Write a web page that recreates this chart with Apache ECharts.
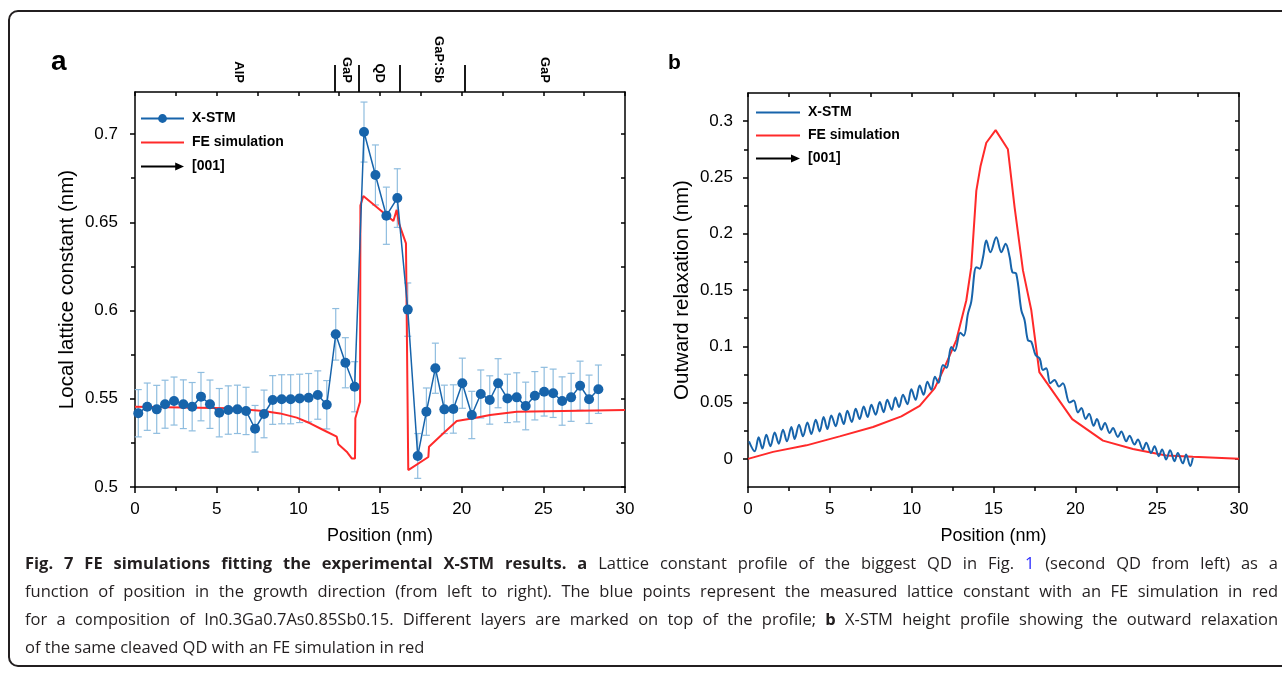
<!DOCTYPE html>
<html><head><meta charset="utf-8">
<script src="https://cdn.jsdelivr.net/npm/echarts@6/dist/echarts.min.js"></script>
<style>
html,body{margin:0;padding:0;background:#fff;}
#wrap{position:relative;width:1282px;height:676px;overflow:hidden;background:#fff;}
#frame{position:absolute;left:8px;top:10px;width:1320px;height:657px;border:2px solid #231f20;border-radius:10px;box-sizing:border-box;}
#chart{position:absolute;left:0;top:0;width:1282px;height:676px;}
#caption{position:absolute;left:25px;top:549px;width:1253px;font-family:'Open Sans','Noto Sans',sans-serif;font-size:16.5px;color:#231f20;}
#caption .ln{height:28px;line-height:28px;white-space:nowrap;}
#caption b{font-weight:700;}
</style></head>
<body>
<div id="wrap">
<div id="frame"></div>
<div id="chart"></div>
<div id="caption">
<div class="ln j"><span><b>Fig. 7 FE simulations fitting the experimental X-STM results. a</b> Lattice constant profile of the biggest QD in Fig. <span style="color:#2a2aff">1</span> (second QD from left) as a</span></div>
<div class="ln j"><span>function of position in the growth direction (from left to right). The blue points represent the measured lattice constant with an FE simulation in red</span></div>
<div class="ln j"><span>for a composition of In0.3Ga0.7As0.85Sb0.15. Different layers are marked on top of the profile; <b>b</b> X-STM height profile showing the outward relaxation</span></div>
<div class="ln"><span>of the same cleaved QD with an FE simulation in red</span></div>
</div>
</div>
<script>
// ---------- Panel a data ----------
const posA = [0.2, 0.75, 1.33, 1.84, 2.39, 2.96, 3.5, 4.04, 4.59, 5.16, 5.71, 6.27, 6.8, 7.35, 7.9, 8.43, 8.98, 9.53, 10.08, 10.63, 11.19, 11.74, 12.29, 12.88, 13.45, 14.02, 14.72, 15.39, 16.06, 16.7, 17.31, 17.84, 18.39, 18.94, 19.49, 20.04, 20.62, 21.17, 21.72, 22.23, 22.8, 23.37, 23.92, 24.48, 25.05, 25.6, 26.15, 26.7, 27.25, 27.8, 28.37];
const valA = [0.5418, 0.5455, 0.544, 0.5469, 0.5487, 0.5469, 0.5455, 0.5512, 0.5469, 0.5421, 0.5436, 0.544, 0.5431, 0.533, 0.5414, 0.5493, 0.5497, 0.5497, 0.5502, 0.5506, 0.5521, 0.5466, 0.5865, 0.5704, 0.5568, 0.7011, 0.6768, 0.6537, 0.6637, 0.6005, 0.5176, 0.5427, 0.5673, 0.544, 0.5442, 0.5588, 0.5408, 0.5527, 0.5493, 0.5588, 0.5502, 0.5508, 0.5459, 0.5517, 0.554, 0.5531, 0.5487, 0.5508, 0.5574, 0.5497, 0.5554];
const errA = [0.0134, 0.0134, 0.0136, 0.0136, 0.0136, 0.0138, 0.0137, 0.0137, 0.0137, 0.0137, 0.0137, 0.0137, 0.0134, 0.0132, 0.0135, 0.0138, 0.0139, 0.0139, 0.0137, 0.0137, 0.0137, 0.0137, 0.0146, 0.0142, 0.0142, 0.017, 0.017, 0.0162, 0.0166, 0.0151, 0.0127, 0.0134, 0.0142, 0.0137, 0.0137, 0.0142, 0.0134, 0.0136, 0.0137, 0.0139, 0.0137, 0.0139, 0.0135, 0.0137, 0.0138, 0.0137, 0.0137, 0.0136, 0.0139, 0.0137, 0.0137];
const feAx = [0, 5.82, 7.86, 8.88, 9.9, 10.72, 11.53, 12.35, 12.45, 12.96, 13.27, 13.47, 13.49, 13.78, 13.8, 13.98, 15.82, 16.02, 16.16, 16.59, 16.73, 17.96, 18.0, 18.88, 19.7, 20.72, 21.74, 23.37, 30];
const feAy = [0.5455, 0.5446, 0.5431, 0.5417, 0.5393, 0.5361, 0.5323, 0.5285, 0.5242, 0.52, 0.5162, 0.5162, 0.5389, 0.5483, 0.6595, 0.6649, 0.6507, 0.657, 0.6494, 0.638, 0.5096, 0.517, 0.5228, 0.5304, 0.5374, 0.5389, 0.5408, 0.5427, 0.5436];
const layerNames = ['AlP', 'GaP', 'QD', 'GaP:Sb', 'GaP'];
const layerPos = [6.33, 12.96, 15.0, 18.57, 25.1];
const layerBounds = [12.25, 13.72, 16.19, 20.17];

// ---------- Panel b data ----------
const posB = [0.06, 0.41, 0.65, 0.88, 1.12, 1.37, 1.63, 1.88, 2.14, 2.38, 2.65, 2.85, 3.12, 3.36, 3.63, 3.87, 4.14, 4.38, 4.62, 4.85, 5.09, 5.36, 5.6, 5.85, 6.07, 6.34, 6.58, 6.82, 7.07, 7.31, 7.54, 7.8, 8.05, 8.29, 8.51, 8.78, 9.0, 9.23, 9.47, 9.74, 9.98, 10.24, 10.49, 10.73, 10.96, 11.2, 11.42, 11.64, 11.91, 12.14, 12.42, 12.63, 12.97, 13.18, 13.44, 13.64, 13.95, 14.15, 14.36, 14.56, 14.81, 15.17, 15.48, 15.74, 15.99, 16.15, 16.39, 16.7, 16.9, 17.1, 17.31, 17.57, 17.82, 18.02, 18.22, 18.47, 18.73, 19.0, 19.24, 19.65, 19.9, 20.16, 20.37, 20.63, 20.84, 21.12, 21.32, 21.59, 21.81, 22.1, 22.3, 22.6, 22.81, 23.11, 23.31, 23.62, 23.82, 24.13, 24.33, 24.63, 24.84, 25.1, 25.3, 25.55, 25.79, 26.06, 26.26, 26.57, 26.77, 27.02, 27.18];
const valB = [0.0156, 0.0067, 0.0191, 0.0091, 0.0215, 0.0112, 0.0235, 0.0135, 0.0259, 0.0156, 0.0283, 0.0177, 0.0303, 0.02, 0.0324, 0.0221, 0.0347, 0.0244, 0.0371, 0.0265, 0.0386, 0.0289, 0.0406, 0.0309, 0.0427, 0.0327, 0.0445, 0.0353, 0.0465, 0.0371, 0.048, 0.0392, 0.0504, 0.0415, 0.0524, 0.0436, 0.0545, 0.046, 0.0569, 0.0486, 0.0619, 0.0524, 0.0651, 0.0569, 0.0686, 0.0613, 0.073, 0.0675, 0.0834, 0.081, 0.0993, 0.0959, 0.1121, 0.1094, 0.129, 0.1394, 0.1703, 0.1689, 0.1791, 0.1939, 0.1836, 0.1968, 0.1836, 0.191, 0.1791, 0.1659, 0.1645, 0.132, 0.1232, 0.1055, 0.1041, 0.0922, 0.0892, 0.079, 0.0804, 0.0672, 0.0701, 0.0643, 0.0672, 0.05, 0.0518, 0.0412, 0.0451, 0.0354, 0.0401, 0.0294, 0.0354, 0.0259, 0.0318, 0.023, 0.0274, 0.0195, 0.0244, 0.0156, 0.0206, 0.0127, 0.0171, 0.0083, 0.0142, 0.0053, 0.0112, 0.0024, 0.0083, -0.0006, 0.0077, -0.0021, 0.0053, -0.004, 0.0039, -0.0064, 0.001];
const feBx = [0, 1.53, 3.57, 5.6, 7.64, 9.37, 10.49, 11.41, 12.0, 12.73, 13.34, 13.64, 13.95, 14.21, 14.56, 15.13, 15.88, 16.29, 16.8, 17.31, 17.8, 19.81, 21.69, 23.52, 25.55, 27.18, 30];
const feBy = [0, 0.0062, 0.012, 0.02, 0.0283, 0.0377, 0.0471, 0.0628, 0.081, 0.1055, 0.1409, 0.1703, 0.2381, 0.2602, 0.2808, 0.292, 0.275, 0.2234, 0.1674, 0.132, 0.077, 0.0353, 0.0162, 0.0088, 0.0029, 0.0018, 0];

// ---------- Tick values ----------
const xMajor = [0, 5, 10, 15, 20, 25, 30];
const xMinor = [2.5, 7.5, 12.5, 17.5, 22.5, 27.5];
const xAll = [0, 2.5, 5, 7.5, 10, 12.5, 15, 17.5, 20, 22.5, 25, 27.5, 30];
const yMajorA = [0.5, 0.55, 0.6, 0.65, 0.7];
const yMinorA = [0.525, 0.575, 0.625, 0.675];
const yAllA = [0.5, 0.525, 0.55, 0.575, 0.6, 0.625, 0.65, 0.675, 0.7];
const yMajorB = [0, 0.05, 0.1, 0.15, 0.2, 0.25, 0.3];
const yMinorB = [0.025, 0.075, 0.125, 0.175, 0.225, 0.275];
const yAllB = [0, 0.025, 0.05, 0.075, 0.1, 0.125, 0.15, 0.175, 0.2, 0.225, 0.25, 0.275, 0.3];

const FONT = '"Liberation Sans", Arial, Helvetica, sans-serif';
const BLUE = '#1764ab', RED = '#ff2a2a', ERRC = '#8fbddf', BLK = '#000';
const AXL = {color: BLK, width: 1.5};

function xAxesFor(grid) {
  const base = {gridIndex: grid, type: 'value', min: 0, max: 30, splitLine: {show: false}};
  return [
    Object.assign({}, base, {position: 'bottom',
      axisLine: {onZero: false, lineStyle: AXL},
      axisTick: {customValues: xMajor, length: 6, lineStyle: AXL},
      axisLabel: {customValues: xMajor, margin: 14, color: BLK, fontSize: 17, fontFamily: FONT},
      name: 'Position (nm)', nameLocation: 'middle', nameGap: 40,
      nameTextStyle: {color: BLK, fontSize: 18, fontFamily: FONT}}),
    Object.assign({}, base, {position: 'bottom',
      axisLine: {show: false, onZero: false},
      axisTick: {customValues: xMinor, length: 4, lineStyle: AXL},
      axisLabel: {show: false}}),
    Object.assign({}, base, {position: 'top',
      axisLine: {onZero: false, lineStyle: AXL},
      axisTick: {inside: true, customValues: xAll, length: 4, lineStyle: AXL},
      axisLabel: {show: false}})
  ];
}
function yAxesFor(grid, min, max, major, minor, all, name, gap, margin) {
  const base = {gridIndex: grid, type: 'value', min: min, max: max, splitLine: {show: false}};
  return [
    Object.assign({}, base, {position: 'left',
      axisLine: {onZero: false, lineStyle: AXL},
      axisTick: {customValues: major, length: 5, lineStyle: AXL},
      axisLabel: {customValues: major, margin: margin, color: BLK, fontSize: 17, fontFamily: FONT},
      name: name, nameLocation: 'middle', nameGap: gap,
      nameTextStyle: {color: BLK, fontSize: 20.5, fontFamily: FONT}}),
    Object.assign({}, base, {position: 'left',
      axisLine: {show: false, onZero: false},
      axisTick: {customValues: minor, length: 4, lineStyle: AXL},
      axisLabel: {show: false}}),
    Object.assign({}, base, {position: 'right',
      axisLine: {onZero: false, lineStyle: AXL},
      axisTick: {inside: true, customValues: all, length: 4, lineStyle: AXL},
      axisLabel: {show: false}})
  ];
}

const xAxes = xAxesFor(0);
xAxes.push({gridIndex: 0, type: 'value', min: 0, max: 30, position: 'top', splitLine: {show: false},
  axisLine: {show: false, onZero: false},
  axisTick: {customValues: layerBounds, length: 27, lineStyle: {color: BLK, width: 1.8}},
  axisLabel: {customValues: layerPos, rotate: 90, margin: 9, color: BLK, fontSize: 13, fontWeight: 'bold', fontFamily: FONT,
    formatter: function (v) { const i = layerPos.indexOf(v); return i >= 0 ? layerNames[i] : ''; }}});
xAxes.push(...xAxesFor(1));

const yAxes = [].concat(
  yAxesFor(0, 0.5, 0.7238, yMajorA, yMinorA, yAllA, 'Local lattice constant (nm)', 57, 17),
  yAxesFor(1, -0.025, 0.325, yMajorB, yMinorB, yAllB, 'Outward relaxation (nm)', 55, 15)
);

function renderErr(params, api) {
  const x = api.value(0), y = api.value(1), e = api.value(2);
  const p1 = api.coord([x, y + e]), p2 = api.coord([x, y - e]);
  const w = 3.5;
  const st = {stroke: ERRC, lineWidth: 1.2, fill: null};
  return {type: 'group', children: [
    {type: 'line', shape: {x1: p1[0], y1: p1[1], x2: p2[0], y2: p2[1]}, style: st},
    {type: 'line', shape: {x1: p1[0] - w, y1: p1[1], x2: p1[0] + w, y2: p1[1]}, style: st},
    {type: 'line', shape: {x1: p2[0] - w, y1: p2[1], x2: p2[0] + w, y2: p2[1]}, style: st}
  ]};
}

const ARROW = 'path://M0,5.1 L35,5.1 L35,2 L44,6 L35,10 L35,6.9 L0,6.9 Z';
const LINEICON = 'path://M0,0 L44,0 L44,2 L0,2 Z';
const legendText = {fontFamily: FONT, fontWeight: 'bold', fontSize: 14, color: BLK, padding: [0, 0, 0, 3]};

const option = {
  animation: false,
  backgroundColor: 'transparent',
  grid: [
    {left: 135, top: 92, width: 490, height: 395, outerBoundsMode: 'none', containLabel: false},
    {left: 748, top: 93, width: 491, height: 394, outerBoundsMode: 'none', containLabel: false}
  ],
  xAxis: xAxes,
  yAxis: yAxes,
  graphic: [
    {type: 'text', left: 51, top: 48, style: {text: 'a', font: 'bold 28px ' + FONT, fill: BLK}},
    {type: 'text', left: 668, top: 53, style: {text: 'b', font: 'bold 21px ' + FONT, fill: BLK}}
  ],
  legend: [
    {left: 140, top: 111.5, padding: 0, orient: 'vertical', itemWidth: 43, itemHeight: 11, itemGap: 10,
      selectedMode: false, textStyle: legendText,
      data: ['X-STM', {name: 'FE simulation', icon: LINEICON}, {name: '[001]', icon: ARROW}]},
    {left: 756, top: 105.5, padding: 0, orient: 'vertical', itemWidth: 44, itemHeight: 11, itemGap: 9,
      selectedMode: false, textStyle: legendText,
      formatter: function (n) { return n.replace('b:', ''); },
      data: [{name: 'b:X-STM', icon: LINEICON}, {name: 'b:FE simulation', icon: LINEICON}, {name: 'b:[001]', icon: ARROW}]}
  ],
  series: [
    {type: 'custom', name: 'err', xAxisIndex: 0, yAxisIndex: 0, silent: true, z: 1,
      encode: {x: 0, y: 1}, renderItem: renderErr,
      data: posA.map(function (x, i) { return [x, valA[i], errA[i]]; })},
    {type: 'line', name: 'FE simulation', xAxisIndex: 0, yAxisIndex: 0, z: 2, color: RED,
      symbol: 'none', lineStyle: {color: RED, width: 2},
      data: feAx.map(function (x, i) { return [x, feAy[i]]; })},
    {type: 'line', name: 'X-STM', xAxisIndex: 0, yAxisIndex: 0, z: 3, color: BLUE,
      symbol: 'circle', symbolSize: 10, itemStyle: {color: BLUE}, lineStyle: {color: BLUE, width: 1.5},
      data: posA.map(function (x, i) { return [x, valA[i]]; })},
    {type: 'line', name: '[001]', xAxisIndex: 0, yAxisIndex: 0, color: BLK, symbol: 'none', data: []},
    {type: 'line', name: 'b:FE simulation', xAxisIndex: 4, yAxisIndex: 3, z: 2, color: RED,
      symbol: 'none', lineStyle: {color: RED, width: 2},
      data: feBx.map(function (x, i) { return [x, feBy[i]]; })},
    {type: 'line', name: 'b:X-STM', xAxisIndex: 4, yAxisIndex: 3, z: 3, color: BLUE,
      symbol: 'none', smooth: 0.35, lineStyle: {color: BLUE, width: 2},
      data: posB.map(function (x, i) { return [x, valB[i]]; })},
    {type: 'line', name: 'b:[001]', xAxisIndex: 4, yAxisIndex: 3, color: BLK, symbol: 'none', data: []}
  ]
};

const chart = echarts.init(document.getElementById('chart'), null, {renderer: 'canvas'});
chart.setOption(option);

function fitCaption() {
  document.querySelectorAll('#caption .ln.j > span').forEach(function (sp) {
    sp.style.wordSpacing = '0px';
    const w = sp.getBoundingClientRect().width;
    const n = (sp.textContent.match(/ /g) || []).length;
    if (n > 0) sp.style.wordSpacing = ((1253 - w) / n) + 'px';
  });
}
fitCaption();
if (document.fonts && document.fonts.ready) document.fonts.ready.then(fitCaption);
</script>
</body></html>
